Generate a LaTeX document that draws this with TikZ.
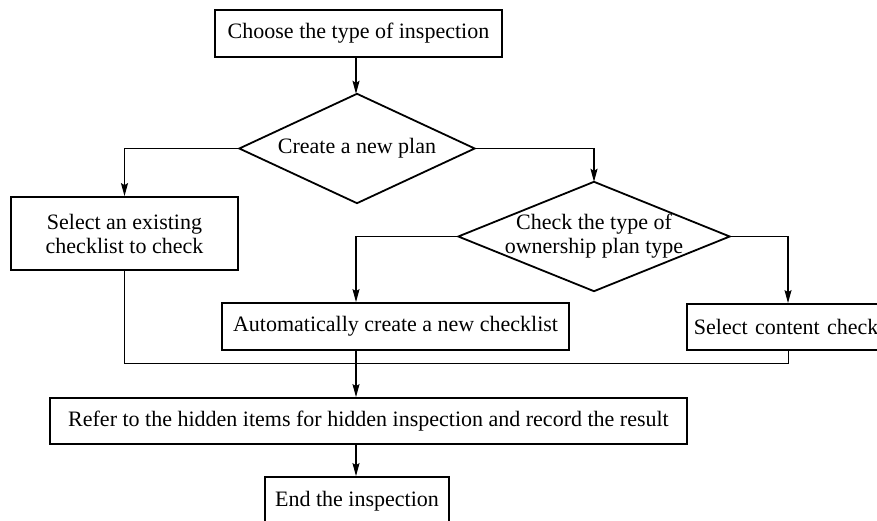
\documentclass[tikz,border=0pt]{standalone}
\usepackage{fontspec}
\setmainfont{Liberation Serif}
\usetikzlibrary{arrows.meta,calc}
\begin{document}
\begin{tikzpicture}[x=1pt,y=-1pt,
  every node/.style={font=\fontsize{22}{24}\selectfont},
  stepbox/.style={draw=black,line width=1.8pt,rectangle,inner sep=0pt,align=center},
  decision/.style={rectangle,draw=none,inner sep=0pt,align=center},
  dline/.style={draw=black,line width=1.8pt,line join=miter},
  arr/.style={draw=black,line width=1.2pt,-{Stealth[length=13pt,width=7pt,inset=2pt]}},
  conn/.style={draw=black,line width=1pt}]
\useasboundingbox (0,0) rectangle (877,521);
\clip (0,0) rectangle (877,521);
\coordinate (cx) at (356,0);
\coordinate (selx) at (788,0);
\coordinate (merge) at (788,363);
% nodes
\node[stepbox,minimum width=287pt,minimum height=47pt] (start) at (358.5,33.5) {Choose the type of inspection};
\node[decision,minimum width=235pt,minimum height=109pt] (d1) at (357,148.5) {Create a new plan};
\draw[dline] (d1.north) -- (d1.east) -- (d1.south) -- (d1.west) -- cycle;
\node[stepbox,minimum width=227pt,minimum height=73pt] (exist) at (124.5,233.5) {Select an existing\\checklist to check};
\node[decision,minimum width=271pt,minimum height=109pt] (d2) at (594,236.5) {Check the type of\\ownership plan type};
\draw[dline] (d2.north) -- (d2.east) -- (d2.south) -- (d2.west) -- cycle;
\node[stepbox,minimum width=347pt,minimum height=47pt] (auto) at (395.5,326.5) {Automatically create a new checklist};
\node[stepbox,minimum width=240pt,minimum height=46pt,anchor=west,text width=230pt,align=left,inner xsep=7pt] (sel) at (686,327) {Select content check};
\node[stepbox,minimum width=637pt,minimum height=46pt] (refer) at (368.5,421) {Refer to the hidden items for hidden inspection and record the result};
\node[stepbox,minimum width=184pt,minimum height=48pt] (end) at (357,501) {End the inspection};
% connectors
\draw[arr] (start.south -| cx) -- (d1.north -| cx);
\draw[arr] (d1.west) -| (exist.north);
\draw[arr] (d1.east) -| (d2.north);
\draw[arr] (d2.west) -| (cx |- auto.north);
\draw[arr] (d2.east) -| (selx |- sel.north);
\draw[conn] (exist.south) |- (merge) -- (selx |- sel.south);
\draw[arr] (cx |- auto.south) -- (cx |- refer.north);
\draw[arr] (cx |- refer.south) -- (cx |- end.north);
\end{tikzpicture}
\end{document}
